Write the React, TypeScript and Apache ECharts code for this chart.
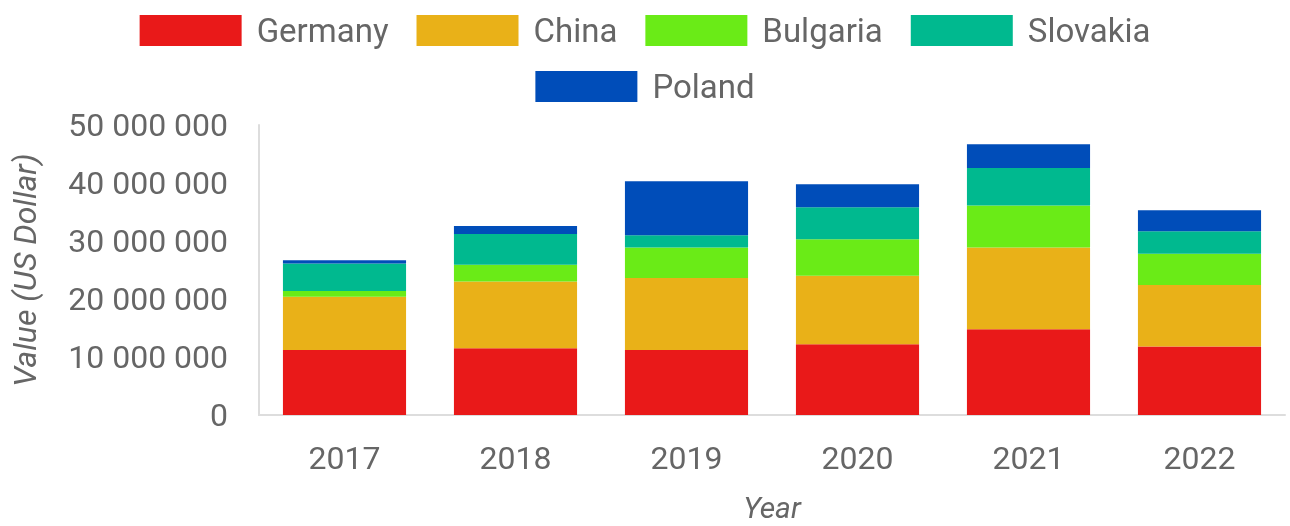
import React, { useEffect, useRef } from "react";
import * as echarts from "echarts";

const years = ["2017", "2018", "2019", "2020", "2021", "2022"];
const germany = [11200000, 11500000, 11200000, 12200000, 14800000, 11800000];
const china = [9200000, 11500000, 12400000, 11800000, 14100000, 10600000];
const bulgaria = [1000000, 2900000, 5300000, 6300000, 7200000, 5400000];
const slovakia = [4700000, 5300000, 2100000, 5500000, 6500000, 3900000];
const poland = [600000, 1400000, 9300000, 4000000, 4100000, 3600000];

const seriesNames = ["Germany", "China", "Bulgaria", "Slovakia", "Poland"];
const seriesData = [germany, china, bulgaria, slovakia, poland];
const colors = ["#E91919", "#E9B118", "#6AEB17", "#00B98F", "#004DB9"];

const fmt = (v: number) => String(Math.round(v)).replace(/\B(?=(\d{3})+(?!\d))/g, " ");

export default function App() {
  const ref = useRef<HTMLDivElement>(null);
  useEffect(() => {
    if (!ref.current) return;
    const chart = echarts.init(ref.current, undefined, { renderer: "svg" });
    const font = "Roboto, 'Liberation Sans', Arial, sans-serif";
    const legendBase = {
      left: "center",
      itemWidth: 102,
      itemHeight: 31,
      itemGap: 28,
      icon: "rect",
      textStyle: { fontSize: 33, color: "#666", fontFamily: font, padding: [0, 0, 0, 10] },
    };
    chart.setOption({
      animation: false,
      textStyle: { fontFamily: font },
      legend: [
        { ...legendBase, top: 9, data: seriesNames.slice(0, 4) },
        { ...legendBase, top: 65, data: seriesNames.slice(4) },
      ],
      grid: { left: 259, right: 5, top: 125, bottom: 111, containLabel: false, outerBoundsMode: "none" },
      xAxis: {
        type: "category",
        data: years,
        axisLine: { show: true, lineStyle: { color: "#ddd", width: 2 } },
        axisTick: { show: false },
        axisLabel: { fontSize: 32, color: "#666", margin: 27, fontFamily: font },
        name: "Year",
        nameLocation: "middle",
        nameGap: 77,
        nameTextStyle: { fontSize: 30, color: "#666", fontStyle: "italic", fontFamily: font },
      },
      yAxis: {
        type: "value",
        min: 0,
        max: 50000000,
        interval: 10000000,
        axisLine: { show: true, lineStyle: { color: "#ddd", width: 2 } },
        axisTick: { show: false },
        splitLine: { show: false },
        axisLabel: { fontSize: 32, color: "#666", margin: 31, formatter: (v: number) => fmt(v), fontFamily: font },
        name: "Value (US Dollar)",
        nameLocation: "middle",
        nameGap: 218,
        nameRotate: 90,
        nameTextStyle: { fontSize: 32, color: "#666", fontStyle: "italic", fontFamily: font },
      },
      series: seriesNames.map((n, i) => ({
        name: n,
        type: "bar",
        stack: "total",
        barWidth: "72%",
        data: seriesData[i],
        itemStyle: { color: colors[i] },
      })),
    });
    return () => chart.dispose();
  }, []);
  return <div ref={ref} style={{ position: "fixed", left: 0, top: 0, width: 1290, height: 526 }} />;
}
